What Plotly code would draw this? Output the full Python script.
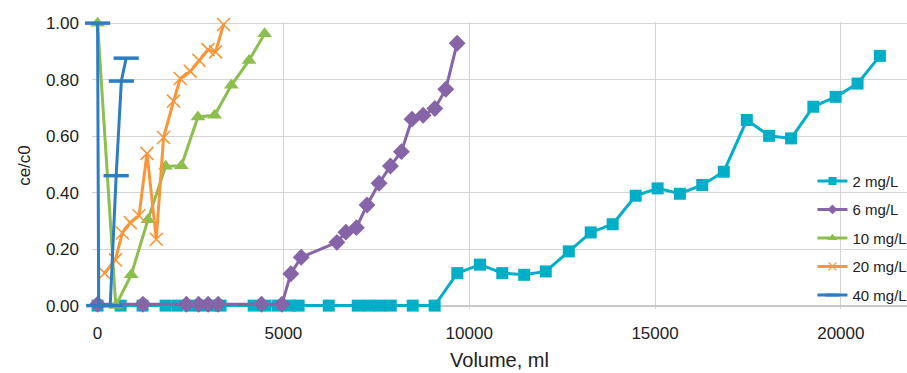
import plotly.graph_objects as go

# Breakthrough curves: effluent/influent concentration ratio vs. throughput volume
vol_2 = [0, 620, 1210, 1830, 2150, 2480, 2770, 3090, 3310, 4200, 4520, 4850, 5170,
         5410, 6220, 7000, 7300, 7590, 7890, 8480, 9070, 9680, 10290, 10890, 11480,
         12060, 12680, 13270, 13860, 14480, 15070, 15670, 16270, 16850, 17470, 18070,
         18660, 19260, 19860, 20450, 21050]
ce_2 = [0.00, 0.00, 0.00, 0.00, 0.00, 0.00, 0.00, 0.00, 0.00, 0.00, 0.00, 0.00, 0.00,
        0.00, 0.00, 0.00, 0.00, 0.00, 0.00, 0.00, 0.00, 0.115, 0.145, 0.115, 0.109,
        0.121, 0.192, 0.259, 0.288, 0.389, 0.415, 0.396, 0.427, 0.474, 0.657, 0.601,
        0.592, 0.704, 0.739, 0.786, 0.884]

vol_6 = [0, 1220, 2390, 2720, 2975, 3245, 4410, 4960, 5200, 5480, 6440, 6680, 6965,
         7250, 7575, 7880, 8175, 8460, 8760, 9075, 9370, 9675]
ce_6 = [0.005, 0.005, 0.005, 0.005, 0.005, 0.005, 0.005, 0.005, 0.113, 0.171, 0.224,
        0.260, 0.276, 0.356, 0.433, 0.494, 0.545, 0.660, 0.674, 0.698, 0.766, 0.929]

vol_10 = [0, 490, 905, 1355, 1830, 2255, 2700, 3150, 3600, 4075, 4495]
ce_10 = [1.00, 0.00, 0.109, 0.304, 0.493, 0.495, 0.668, 0.674, 0.780, 0.868, 0.962]

vol_20 = [190, 480, 665, 880, 1115, 1330, 1580, 1775, 2045, 2225, 2495, 2730, 2970,
          3175, 3390]
ce_20 = [0.115, 0.162, 0.257, 0.294, 0.318, 0.539, 0.235, 0.595, 0.724, 0.804, 0.829,
         0.868, 0.906, 0.898, 0.995]

vol_40 = [0, 30, 340, 500, 640, 770]
ce_40 = [1.00, 0.00, 0.00, 0.46, 0.795, 0.876]

x_ticks = [0, 5000, 10000, 15000, 20000]
y_ticks = [0, 0.2, 0.4, 0.6, 0.8, 1.0]

# name, volumes, ratios, colour, plot marker, (smaller) legend marker
series = [
    ("2 mg/L", vol_2, ce_2, "#00AFC7",
     dict(symbol="square", size=12), dict(symbol="square", size=8)),
    ("6 mg/L", vol_6, ce_6, "#8664A8",
     dict(symbol="diamond", size=13), dict(symbol="diamond", size=7.5)),
    ("10 mg/L", vol_10, ce_10, "#8DBF4F",
     dict(symbol="triangle-up", size=13), dict(symbol="triangle-up", size=8.5)),
    ("20 mg/L", vol_20, ce_20, "#FA9639",
     dict(symbol="x-thin-open", size=13, line=dict(width=1.6)),
     dict(symbol="x-thin-open", size=8, line=dict(width=1.3))),
    ("40 mg/L", vol_40, ce_40, "#2D7DC1",
     dict(symbol="line-ew-open", size=18, line=dict(width=3.5)),
     dict(symbol="line-ew-open", size=10, line=dict(width=3))),
]


def colored(marker, color):
    mk = dict(color=color, **marker)
    if "line" in mk:
        mk["line"] = dict(color=color, **mk["line"])
    return mk


fig = go.Figure()
for name, xs, ys, color, marker, leg_marker in series:
    # data trace
    fig.add_trace(go.Scatter(
        x=xs, y=ys, name=name, mode="lines+markers",
        line=dict(color=color, width=3),
        marker=colored(marker, color), cliponaxis=False,
        legendgroup=name, showlegend=False,
    ))
    # legend entry with a compact marker
    fig.add_trace(go.Scatter(
        x=[None], y=[None], name=name, mode="lines+markers",
        line=dict(color=color, width=3),
        marker=colored(leg_marker, color),
        legendgroup=name, showlegend=True,
    ))

font_family = "Liberation Sans, Arial, sans-serif"
fig.update_layout(
    width=907, height=373,
    margin=dict(l=92.4, r=0, t=21.6, b=63.6, autoexpand=False),
    paper_bgcolor="white", plot_bgcolor="white",
    font=dict(family=font_family, color="#222222", size=17),
    showlegend=True,
    legend=dict(
        x=0.884, y=0.503, xanchor="left", yanchor="top",
        bgcolor="rgba(0,0,0,0)", font=dict(size=15, color="#222222"),
        tracegroupgap=6, traceorder="grouped",
    ),
    xaxis=dict(
        range=[-150, 21780], tickvals=x_ticks, tickformat="d",
        showgrid=True, gridcolor="#D4D4D4", gridwidth=1.3,
        zeroline=False, showline=False,
        ticks="", ticklabelstandoff=12,
        tickfont=dict(size=17),
        title=dict(text="Volume, ml", font=dict(size=20), standoff=10),
    ),
    yaxis=dict(
        range=[-0.012, 1.004], tickvals=y_ticks, tickformat=".2f",
        showgrid=True, gridcolor="#D4D4D4", gridwidth=1.3,
        zeroline=True, zerolinecolor="#C8C8C8", zerolinewidth=1.5,
        showline=False, ticks="", ticklabelstandoff=12,
        tickfont=dict(size=17),
        title=dict(text="ce/c0", font=dict(size=17), standoff=10),
    ),
)

fig.write_html("out.html")
